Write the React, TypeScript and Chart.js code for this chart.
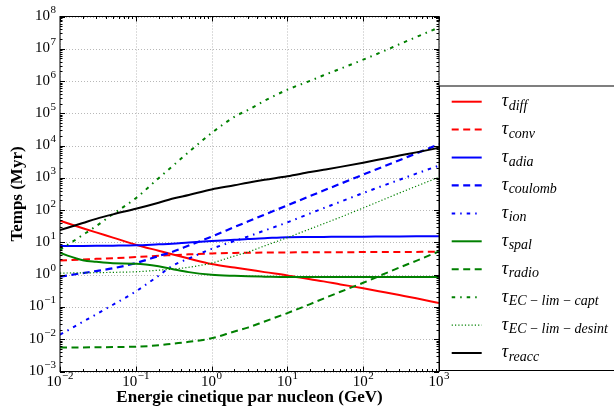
import React, { useEffect, useRef } from "react";
import { Chart, registerables } from "chart.js";

Chart.register(...registerables);

// ---- data ----
const energies = [0.01, 0.02, 0.03, 0.05, 0.1, 0.2, 0.3, 0.5, 1, 2, 3, 5, 10, 20, 30, 50, 100, 200, 300, 500, 1000];

const tauDiff = [46.8, 27.5, 20.4, 14.1, 8.5, 5.5, 4.27, 3.16, 2.14, 1.66, 1.45, 1.2, 0.95, 0.72, 0.62, 0.5, 0.38, 0.28, 0.234, 0.186, 0.132];
const tauConv = [2.75, 2.95, 3.09, 3.24, 3.51, 3.85, 4.03, 4.27, 4.57, 4.73, 4.79, 4.84, 4.9, 4.93, 4.95, 4.98, 5.01, 5.04, 5.06, 5.08, 5.13];
const tauAdia = [7.76, 7.8, 7.85, 7.94, 8.13, 8.7, 9.06, 9.9, 11.0, 12.0, 12.8, 13.5, 14.5, 14.7, 14.8, 14.9, 15.1, 15.2, 15.3, 15.4, 15.5];
const tauCoulomb = [0.87, 1.12, 1.29, 1.58, 2.29, 3.78, 5.05, 8.0, 15.1, 29.9, 44.4, 72.6, 141, 275, 405, 656, 1259, 2415, 3532, 5715, 10965];
const tauIon = [0.0138, 0.0347, 0.0589, 0.117, 0.302, 0.93, 1.86, 3.16, 6.3, 11.0, 15.1, 23.4, 41.7, 79.4, 115, 182, 339, 617, 871, 1349, 2399];
const tauSpal = [4.68, 2.82, 2.51, 2.26, 2.19, 1.82, 1.51, 1.2, 1.0, 0.92, 0.89, 0.87, 0.85, 0.85, 0.85, 0.85, 0.85, 0.85, 0.85, 0.85, 0.85];
const tauRadio = [0.0055, 0.00558, 0.00562, 0.0057, 0.00589, 0.00646, 0.00724, 0.0083, 0.0107, 0.0174, 0.0229, 0.0355, 0.0646, 0.123, 0.182, 0.295, 0.562, 1.12, 1.66, 2.69, 5.25];
const tauCapt = [5.9, 17, 32, 76, 234, 980, 2240, 6300, 24500, 78000, 126000, 245000, 540000, 1.02e6, 1.51e6, 2.4e6, 4.6e6, 9.1e6, 1.38e7, 2.3e7, 4.6e7];
const tauDesint = [1.12, 1.14, 1.15, 1.18, 1.23, 1.38, 1.48, 1.7, 2.29, 3.8, 5.0, 7.8, 14.1, 26.3, 38, 60.3, 117, 229, 339, 550, 1047];
const tauReacc = [24, 39.8, 53.7, 74, 110, 170, 224, 295, 437, 589, 708, 871, 1122, 1514, 1778, 2188, 2951, 4074, 4898, 6166, 8511];

const xTickExponents = [-2, -1, 0, 1, 2, 3];
const yTickExponents = [-3, -2, -1, 0, 1, 2, 3, 4, 5, 6, 7, 8];
const xAxisTitle = "Energie cinetique par nucleon (GeV)";
const yAxisTitle = "Temps (Myr)";
const legendSymbol = "\u03C4";
const legendSubscripts = [
  "diff",
  "conv",
  "adia",
  "coulomb",
  "ion",
  "spal",
  "radio",
  "EC\u2009\u2212\u2009lim\u2009\u2212\u2009capt",
  "EC\u2009\u2212\u2009lim\u2009\u2212\u2009desint",
  "reacc",
];

// ---- styles ----
const RED = "#ff0000";
const BLUE = "#0000ff";
const GREEN = "#008000";
const BLACK = "#000000";
const DASHED = [7, 4.5];
const DASHDOT = [3.5, 5, 1.5, 5];
const DOTTED = [1.2, 2.1];

const seriesValues = [tauDiff, tauConv, tauAdia, tauCoulomb, tauIon, tauSpal, tauRadio, tauCapt, tauDesint, tauReacc];
const seriesStyles = [
  { color: RED, width: 2, dash: [] as number[] },
  { color: RED, width: 2, dash: DASHED },
  { color: BLUE, width: 2, dash: [] as number[] },
  { color: BLUE, width: 2.2, dash: DASHED },
  { color: BLUE, width: 2, dash: DASHDOT },
  { color: GREEN, width: 2, dash: [] as number[] },
  { color: GREEN, width: 2, dash: DASHED },
  { color: GREEN, width: 2, dash: DASHDOT },
  { color: GREEN, width: 1.2, dash: DOTTED },
  { color: BLACK, width: 2, dash: [] as number[] },
];

const SERIF = "'Liberation Serif', 'Times New Roman', serif";

function drawPow(ctx: CanvasRenderingContext2D, e: number, x: number, y: number, align: "center" | "right") {
  const base = "10";
  const exp = e < 0 ? "\u2212" + String(-e) : String(e);
  ctx.font = `15px ${SERIF}`;
  const bw = ctx.measureText(base).width;
  ctx.font = `11px ${SERIF}`;
  const ew = ctx.measureText(exp).width;
  const total = bw + 0.5 + ew;
  const x0 = align === "center" ? x - total / 2 : x - total;
  ctx.textAlign = "left";
  ctx.textBaseline = "alphabetic";
  ctx.fillStyle = "#000";
  ctx.font = `15px ${SERIF}`;
  ctx.fillText(base, x0, y);
  ctx.font = `11px ${SERIF}`;
  ctx.fillText(exp, x0 + bw + 0.5, y - 7);
}

const axesPlugin = {
  id: "mplAxes",
  beforeDatasetsDraw(chart: any) {
    const { ctx, chartArea } = chart;
    const xs = chart.scales.x;
    const ys = chart.scales.y;
    ctx.save();
    ctx.strokeStyle = "rgba(0,0,0,0.28)";
    ctx.lineWidth = 1;
    ctx.setLineDash([1, 2]);
    for (const e of xTickExponents) {
      const px = Math.round(xs.getPixelForValue(Math.pow(10, e))) + 0.5;
      ctx.beginPath();
      ctx.moveTo(px, chartArea.top);
      ctx.lineTo(px, chartArea.bottom);
      ctx.stroke();
    }
    for (const e of yTickExponents) {
      const py = Math.round(ys.getPixelForValue(Math.pow(10, e))) + 0.5;
      ctx.beginPath();
      ctx.moveTo(chartArea.left, py);
      ctx.lineTo(chartArea.right, py);
      ctx.stroke();
    }
    ctx.restore();
  },
  afterDatasetsDraw(chart: any) {
    const { ctx, chartArea } = chart;
    const { left, right, top, bottom } = chartArea;
    const xs = chart.scales.x;
    const ys = chart.scales.y;
    ctx.save();
    ctx.setLineDash([]);
    ctx.strokeStyle = "#000";
    ctx.lineWidth = 1;

    // ticks (inward, all four sides)
    ctx.beginPath();
    for (let k = xTickExponents[0]; k <= xTickExponents[xTickExponents.length - 1]; k++) {
      for (let m = 1; m <= 9; m++) {
        const v = m * Math.pow(10, k);
        if (v > 1000 * 1.0001) continue;
        const len = m === 1 ? 5 : 2.5;
        const px = Math.round(xs.getPixelForValue(v)) + 0.5;
        ctx.moveTo(px, bottom);
        ctx.lineTo(px, bottom - len);
        ctx.moveTo(px, top);
        ctx.lineTo(px, top + len);
      }
    }
    for (let k = yTickExponents[0]; k <= yTickExponents[yTickExponents.length - 1]; k++) {
      for (let m = 1; m <= 9; m++) {
        const v = m * Math.pow(10, k);
        if (v > 1e8 * 1.0001) continue;
        const len = m === 1 ? 5 : 2.5;
        const py = Math.round(ys.getPixelForValue(v)) + 0.5;
        ctx.moveTo(left, py);
        ctx.lineTo(left + len, py);
        ctx.moveTo(right, py);
        ctx.lineTo(right - len, py);
      }
    }
    ctx.stroke();

    // frame
    ctx.strokeRect(left, top, right - left, bottom - top);

    // tick labels
    for (const e of xTickExponents) {
      drawPow(ctx, e, xs.getPixelForValue(Math.pow(10, e)), bottom + 14, "center");
    }
    for (const e of yTickExponents) {
      drawPow(ctx, e, left - 4, ys.getPixelForValue(Math.pow(10, e)) + 3.5, "right");
    }

    // axis titles
    ctx.fillStyle = "#000";
    ctx.font = `bold 17px ${SERIF}`;
    ctx.textAlign = "center";
    ctx.textBaseline = "alphabetic";
    ctx.fillText(xAxisTitle, (left + right) / 2, 401.5);
    ctx.save();
    ctx.translate(21.5, (top + bottom) / 2);
    ctx.rotate(-Math.PI / 2);
    ctx.fillText(yAxisTitle, 0, 0);
    ctx.restore();

    // legend
    ctx.strokeStyle = "#000";
    ctx.lineWidth = 1;
    ctx.strokeRect(right + 0.5, 86, 220, 284.5);
    const x0 = right + 12.7;
    for (let i = 0; i < legendSubscripts.length; i++) {
      const st = seriesStyles[i];
      const cy = 101.7 + 27.92 * i;
      ctx.beginPath();
      ctx.strokeStyle = st.color;
      ctx.lineWidth = st.width;
      ctx.setLineDash(st.dash);
      ctx.moveTo(x0, cy);
      ctx.lineTo(x0 + 30, cy);
      ctx.stroke();
      ctx.setLineDash([]);
      ctx.fillStyle = "#000";
      ctx.textAlign = "left";
      ctx.font = `italic 18px ${SERIF}`;
      const tx = x0 + 50;
      ctx.fillText(legendSymbol, tx, cy + 4.5);
      const tw = ctx.measureText(legendSymbol).width;
      ctx.font = `italic 14px ${SERIF}`;
      ctx.fillText(legendSubscripts[i], tx + tw + 0.5, cy + 8);
    }
    ctx.restore();
  },
};

export default function App() {
  const canvasRef = useRef<HTMLCanvasElement | null>(null);

  useEffect(() => {
    document.body.style.margin = "0";
    const canvas = canvasRef.current;
    if (!canvas) return;
    const datasets = seriesValues.map((vals, i) => ({
      label: legendSymbol + legendSubscripts[i],
      data: energies.map((e, j) => ({ x: e, y: vals[j] })),
      borderColor: seriesStyles[i].color,
      backgroundColor: seriesStyles[i].color,
      borderWidth: seriesStyles[i].width,
      borderDash: seriesStyles[i].dash,
      pointRadius: 0,
      fill: false,
      cubicInterpolationMode: "monotone" as const,
      order: seriesValues.length - i,
    }));
    const chart = new Chart(canvas, {
      type: "line",
      data: { datasets },
      options: {
        responsive: false,
        animation: false,
        devicePixelRatio: 1,
        layout: { padding: { top: 16.5, right: 175, left: 0, bottom: 0 } },
        plugins: { legend: { display: false }, tooltip: { enabled: false } },
        scales: {
          x: {
            type: "logarithmic",
            min: 0.01,
            max: 1000,
            grid: { display: false },
            border: { display: false },
            ticks: { display: false },
            afterFit: (s: any) => {
              s.height = 35.5;
            },
          },
          y: {
            type: "logarithmic",
            min: 1e-3,
            max: 1e8,
            grid: { display: false },
            border: { display: false },
            ticks: { display: false },
            afterFit: (s: any) => {
              s.width = 60;
            },
          },
        },
      } as any,
      plugins: [axesPlugin],
    });
    return () => chart.destroy();
  }, []);

  return (
    <div style={{ width: 614, height: 407, background: "#fff" }}>
      <canvas ref={canvasRef} width={614} height={407} style={{ display: "block" }} />
    </div>
  );
}
